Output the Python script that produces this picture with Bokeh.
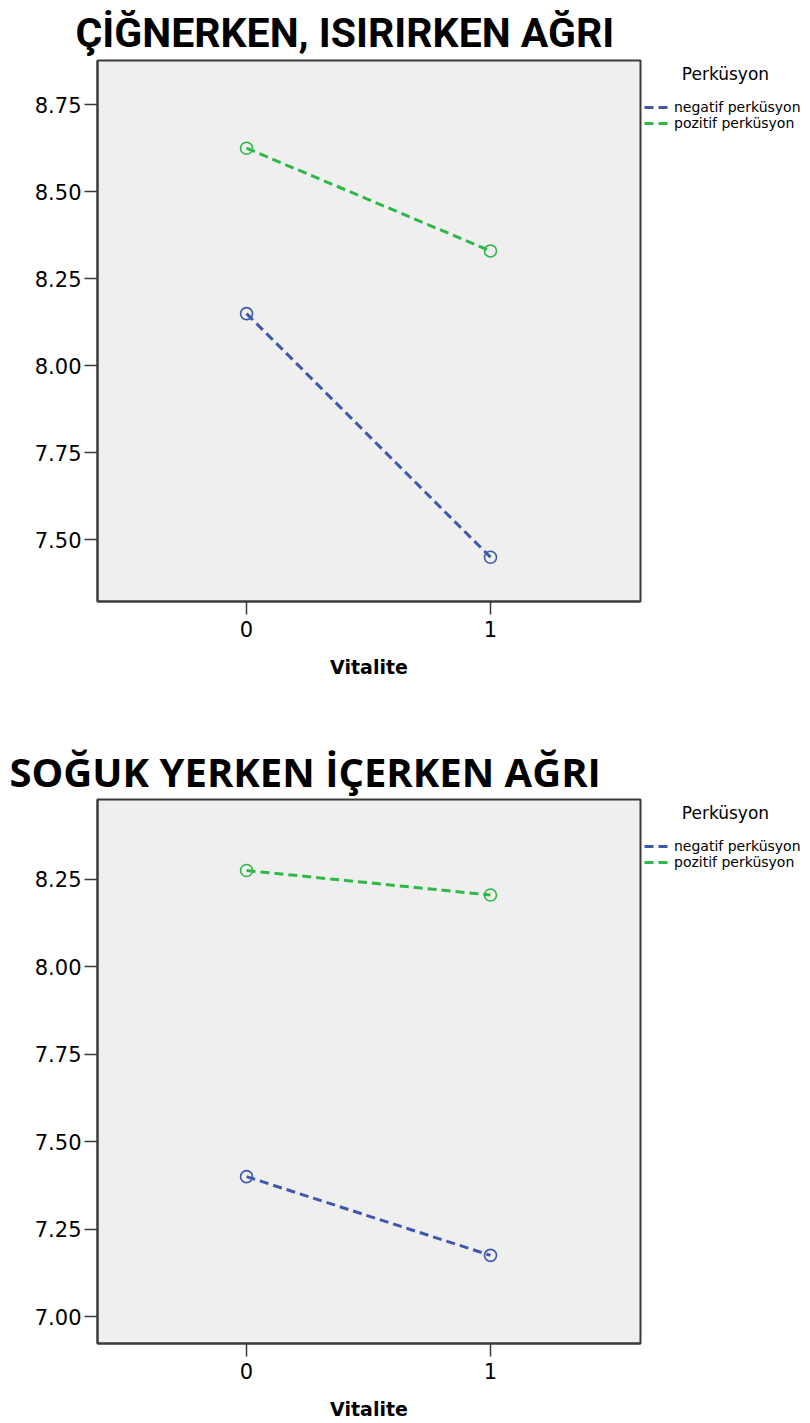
from bokeh.plotting import figure
from bokeh.models import Range1d, FixedTicker, NumeralTickFormatter, Legend, LegendItem
from bokeh.layouts import column
from bokeh.embed import file_html
from bokeh.resources import INLINE

# ---- data ----
vitalite = [0, 1]
x_ticks = [0, 1]
cig_neg = [8.15, 7.45]
cig_pos = [8.625, 8.33]
sog_neg = [7.40, 7.175]
sog_pos = [8.275, 8.205]
cig_yticks = [7.50, 7.75, 8.00, 8.25, 8.50, 8.75]
sog_yticks = [7.00, 7.25, 7.50, 7.75, 8.00, 8.25]
series_names = ["negatif perküsyon", "pozitif perküsyon"]
legend_title = "Perküsyon"
x_label = "Vitalite"
titles = ["ÇİĞNERKEN, ISIRIRKEN AĞRI", "SOĞUK YERKEN İÇERKEN AĞRI"]

BLUE = "#3E58AC"
GREEN = "#2EB848"
FRAME = "#3a3a3a"
TICK_FONT = "DejaVu Sans"


def make_chart(title, title_font, title_size, title_offset, neg, pos, yticks, yrange,
               frame_h, b_top, b_bottom, title_standoff):
    p = figure(frame_width=543, frame_height=frame_h, output_backend="svg",
               toolbar_location=None,
               x_range=Range1d(-0.611, 1.615), y_range=Range1d(*yrange),
               min_border_left=97, min_border_right=162,
               min_border_top=b_top, min_border_bottom=b_bottom)
    p.title.text = title
    p.title.text_font = title_font
    p.title.text_font_size = title_size
    p.title.text_font_style = "bold"
    p.title.text_color = "black"
    p.title.align = "left"
    p.title.offset = title_offset
    p.title.standoff = title_standoff

    p.background_fill_color = "#EFEFEF"
    p.border_fill_color = "white"
    p.outline_line_color = FRAME
    p.outline_line_width = 2
    p.xgrid.grid_line_color = None
    p.ygrid.grid_line_color = None

    for ax in (p.xaxis[0], p.yaxis[0]):
        ax.axis_line_color = FRAME
        ax.axis_line_width = 2
        ax.major_tick_line_color = FRAME
        ax.major_tick_line_width = 1.5
        ax.major_tick_in = 0
        ax.major_tick_out = 13
        ax.minor_tick_line_color = None
        ax.major_label_text_font = TICK_FONT
        ax.major_label_text_font_size = "21px"
        ax.major_label_text_color = "black"
    p.yaxis.ticker = FixedTicker(ticks=yticks)
    p.yaxis.formatter = NumeralTickFormatter(format="0.00")
    p.yaxis.major_label_standoff = 3
    p.xaxis.ticker = FixedTicker(ticks=x_ticks)
    p.xaxis.major_label_standoff = 6
    p.xaxis.axis_label = x_label
    p.xaxis.axis_label_text_font = TICK_FONT
    p.xaxis.axis_label_text_font_style = "bold"
    p.xaxis.axis_label_text_font_size = "19px"
    p.xaxis.axis_label_text_color = "black"
    p.xaxis.axis_label_standoff = 16

    r_neg = p.line(vitalite, neg, line_color=BLUE, line_width=3, line_dash="9 5")
    r_pos = p.line(vitalite, pos, line_color=GREEN, line_width=3, line_dash="9 5")
    p.scatter(vitalite, neg, marker="circle", size=12, fill_color=None,
              line_color=BLUE, line_width=1.6)
    p.scatter(vitalite, pos, marker="circle", size=12, fill_color=None,
              line_color=GREEN, line_width=1.6)

    legend = Legend(items=[LegendItem(label=series_names[0], renderers=[r_neg]),
                           LegendItem(label=series_names[1], renderers=[r_pos])],
                    location="top_left", margin=0, padding=4, spacing=0,
                    title="\u00a0" * 7 + legend_title, title_text_font=TICK_FONT,
                    title_text_font_size="17px", title_text_font_style="normal",
                    title_text_color="black", title_standoff=15,
                    glyph_width=25, glyph_height=16, label_height=16,
                    label_standoff=5, label_text_font=TICK_FONT,
                    label_text_font_size="14px", label_text_color="black",
                    border_line_alpha=0, background_fill_alpha=0)
    p.add_layout(legend, "right")
    return p


p1 = make_chart(titles[0], "Roboto", "41px", -22,
                cig_neg, cig_pos, cig_yticks, (7.323, 8.877), 541, 60, 99, 8)
p2 = make_chart(titles[1], "Open Sans", "40px", -88,
                sog_neg, sog_pos, sog_yticks, (6.923, 8.478), 544, 99, 72, 2)

layout = column(p1, p2, spacing=0)
open("out.html", "w").write(file_html(layout, INLINE))
